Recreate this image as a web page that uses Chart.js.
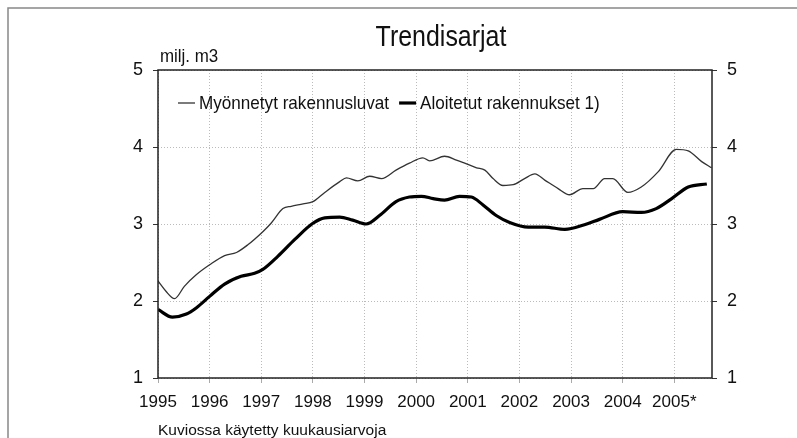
<!DOCTYPE html>
<html>
<head>
<meta charset="utf-8">
<script src="https://cdn.jsdelivr.net/npm/chart.js@4/dist/chart.umd.min.js"></script>
<style>
  html, body { margin: 0; padding: 0; background: #fff; }
  canvas { display: block; }
</style>
</head>
<body>
<canvas id="chart" width="797" height="438"></canvas>
<script>
/* =========================
   DATA (decimal years, milj. m3)
========================= */
const permitYears = [
  1995.00, 1995.15, 1995.32, 1995.51, 1995.74, 1996.00, 1996.29, 1996.52, 1996.74,
  1997.03, 1997.19, 1997.42, 1997.58, 1997.81, 1998.00, 1998.23, 1998.52, 1998.65,
  1998.87, 1999.10, 1999.33, 1999.61, 1999.87, 2000.13, 2000.26, 2000.55, 2000.78,
  2000.94, 2001.17, 2001.33, 2001.49, 2001.68, 2001.88, 2002.10, 2002.30, 2002.49,
  2002.75, 2002.97, 2003.23, 2003.43, 2003.65, 2003.81, 2004.10, 2004.36, 2004.69,
  2005.04, 2005.27, 2005.53, 2005.72
];
const permitValues = [
  2.26, 2.13, 2.03, 2.19, 2.34, 2.47, 2.59, 2.63, 2.73,
  2.90, 3.01, 3.20, 3.23, 3.26, 3.29, 3.41, 3.55, 3.60,
  3.56, 3.62, 3.59, 3.70, 3.79, 3.86, 3.82, 3.88, 3.83,
  3.79, 3.73, 3.70, 3.59, 3.50, 3.51, 3.59, 3.65, 3.57,
  3.46, 3.38, 3.46, 3.46, 3.59, 3.59, 3.41, 3.48, 3.68,
  3.97, 3.95, 3.81, 3.73
];

const startYears = [
  1995.00, 1995.28, 1995.55, 1995.74, 1996.00, 1996.29, 1996.61, 1996.87, 1997.03,
  1997.32, 1997.65, 1998.00, 1998.23, 1998.52, 1998.77, 1999.03, 1999.29, 1999.61,
  1999.87, 2000.10, 2000.33, 2000.55, 2000.84, 2001.07, 2001.29, 2001.55, 2001.81,
  2002.17, 2002.49, 2002.88, 2003.26, 2003.55, 2004.00, 2004.36, 2004.65, 2004.95,
  2005.27, 2005.63
];
const startValues = [
  1.89, 1.79, 1.83, 1.91, 2.06, 2.22, 2.32, 2.36, 2.41,
  2.58, 2.80, 3.01, 3.08, 3.09, 3.05, 3.00, 3.11, 3.29,
  3.35, 3.36, 3.33, 3.31, 3.36, 3.35, 3.25, 3.11, 3.02,
  2.96, 2.96, 2.93, 2.99, 3.06, 3.16, 3.15, 3.20, 3.33,
  3.48, 3.52
];

const yearTicks = [1995, 1996, 1997, 1998, 1999, 2000, 2001, 2002, 2003, 2004, 2005];
const yearLabels = ["1995", "1996", "1997", "1998", "1999", "2000", "2001", "2002", "2003", "2004", "2005*"];

const seriesNames = ["Myönnetyt rakennusluvat", "Aloitetut rakennukset 1)"];

const FONT = "'Liberation Sans', Arial, sans-serif";

Chart.defaults.font.family = FONT;
Chart.defaults.color = "#111";

function toPoints(xs, ys) {
  return xs.map((x, i) => ({ x, y: ys[i] }));
}

// narrow text: squeeze horizontally, returns drawn width
function narrowText(ctx, text, x, y, size, squeeze, align) {
  ctx.save();
  ctx.font = size + "px " + FONT;
  ctx.textAlign = align;
  ctx.translate(x, y);
  ctx.scale(squeeze, 1);
  ctx.fillText(text, 0, 0);
  const w = ctx.measureText(text).width * squeeze;
  ctx.restore();
  return w;
}

/* =========================
   EXTRA TEXT: title, unit, legend, frames
========================= */
const extras = {
  id: "extras",
  afterDraw(chart) {
    const { ctx, chartArea } = chart;
    ctx.save();

    // outer frame
    ctx.strokeStyle = "#888";
    ctx.lineWidth = 1.5;
    ctx.beginPath();
    ctx.moveTo(8, 438);
    ctx.lineTo(8, 8);
    ctx.lineTo(797, 8);
    ctx.stroke();

    // plot frame
    ctx.strokeStyle = "#222";
    ctx.lineWidth = 1.5;
    ctx.strokeRect(chartArea.left, chartArea.top, chartArea.right - chartArea.left, chartArea.bottom - chartArea.top);

    ctx.fillStyle = "#111";
    ctx.textBaseline = "middle";

    narrowText(ctx, "Trendisarjat", 441, 38, 29, 0.86, "center");
    narrowText(ctx, "milj. m3", 160, 57, 18, 0.94, "left");

    // legend inside plot
    let x = chartArea.left + 20;
    const y = 103;
    chart.data.datasets.forEach((ds) => {
      ctx.strokeStyle = ds.borderColor;
      ctx.lineWidth = ds.borderWidth;
      ctx.beginPath();
      ctx.moveTo(x, y);
      ctx.lineTo(x + 17, y);
      ctx.stroke();
      const w = narrowText(ctx, ds.label, x + 21, y + 1, 19, 0.9, "left");
      x += 21 + w + 10;
    });

    ctx.restore();
  },
};

/* =========================
   CHART
========================= */
const gridColor = "#bbb";

new Chart(document.getElementById("chart"), {
  type: "line",
  data: {
    datasets: [
      {
        label: seriesNames[0],
        data: toPoints(permitYears, permitValues),
        borderColor: "#333",
        borderWidth: 1.3,
        pointRadius: 0,
        cubicInterpolationMode: "monotone",
      },
      {
        label: seriesNames[1],
        data: toPoints(startYears, startValues),
        borderColor: "#000",
        borderWidth: 3.2,
        pointRadius: 0,
        cubicInterpolationMode: "monotone",
      },
    ],
  },
  options: {
    responsive: false,
    animation: false,
    layout: { padding: { top: 70, left: 0, right: 0, bottom: 0 } },
    plugins: {
      legend: { display: false },
      tooltip: { enabled: false },
    },
    scales: {
      x: {
        type: "linear",
        min: 1995,
        max: 2005.73,
        afterBuildTicks: (s) => {
          s.ticks = yearTicks.map((v) => ({ value: v }));
        },
        afterFit: (s) => {
          s.height = 60;
        },
        ticks: {
          font: { size: 17 },
          padding: 9,
          maxRotation: 0,
          autoSkip: false,
          callback: (v) => yearLabels[yearTicks.indexOf(v)],
        },
        grid: {
          color: gridColor,
          tickColor: "#aaa",
          tickLength: 5,
        },
        border: { display: false, dash: [1, 2] },
        title: {
          display: true,
          text: "Kuviossa käytetty kuukausiarvoja",
          align: "start",
          font: { size: 15.5, lineHeight: 1 },
          padding: { top: 0, bottom: 0 },
        },
      },
      y: {
        position: "left",
        min: 1,
        max: 5,
        afterFit: (s) => {
          s.width = 158;
        },
        ticks: { stepSize: 1, font: { size: 18 }, padding: 10 },
        grid: { color: gridColor, tickColor: "#333", tickLength: 5 },
        border: { display: false, dash: [1, 2] },
      },
      y2: {
        position: "right",
        min: 1,
        max: 5,
        afterFit: (s) => {
          s.width = 85;
        },
        ticks: { stepSize: 1, font: { size: 18 }, padding: 10 },
        grid: { drawOnChartArea: false, tickColor: "#333", tickLength: 5 },
        border: { display: false },
      },
    },
  },
  plugins: [extras],
});
</script>
</body>
</html>
